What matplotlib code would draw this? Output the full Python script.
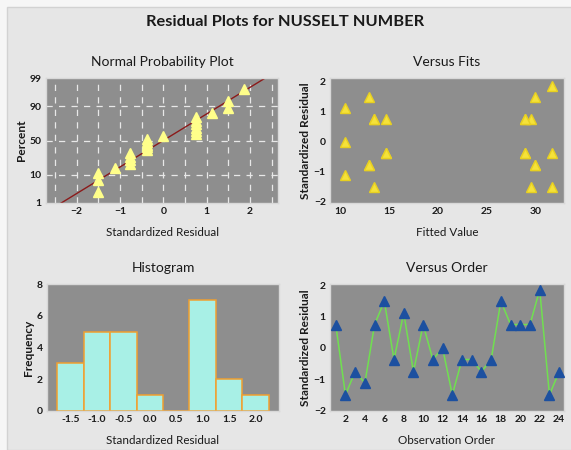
import numpy as np
import matplotlib.pyplot as plt
from matplotlib.patches import Rectangle
from statistics import NormalDist

plt.rcParams['font.family'] = ['Lato', 'DejaVu Sans']

# residuals in observation order and the matching fitted values
order = np.arange(1, 25)
residuals = [0.75, -1.50, -0.76, -1.12, 0.75, 1.50, -0.37, 1.12, -0.76, 0.75, -0.37, 0.00,
             -1.50, -0.37, -0.37, -0.76, -0.37, 1.50, 0.75, 0.75, 0.75, 1.87, -1.50, -0.76]
fitted = [13.5, 13.5, 13.0, 10.5, 14.7, 13.0, 14.7, 10.5, 13.0, 13.5, 14.7, 10.5,
          29.5, 28.9, 31.7, 29.9, 28.9, 29.9, 28.9, 29.5, 28.9, 31.7, 31.7, 29.9]
hist_edges = [-1.75, -1.25, -0.75, -0.25, 0.25, 0.75, 1.25, 1.75, 2.25]
pct_ticks = [1, 10, 50, 90, 99]

res = np.array(residuals)
n = len(res)
nd = NormalDist()

BG = '#E6E6E6'
PANEL = '#8E8E8E'
TXT = '#1A1A1A'

fig = plt.figure(figsize=(5.71, 4.5), dpi=100, facecolor='#F6F6F6')
fig.patches.append(Rectangle((7 / 571, 0), 1, 1 - 7 / 450, transform=fig.transFigure,
                             facecolor=BG, edgecolor='#D2D2D2', lw=1, zorder=-1))
fig.text(0.5, 0.951, 'Residual Plots for NUSSELT NUMBER', ha='center', va='center',
         fontsize=11.8, fontweight='bold', color=TXT)


def style(ax, title, xlabel, ylabel):
    ax.set_facecolor(PANEL)
    for s in ax.spines.values():
        s.set_color('#D8D8D8')
        s.set_linewidth(1)
    ax.tick_params(length=0, labelsize=7.5, colors=TXT, pad=3)
    for lab in ax.get_xticklabels() + ax.get_yticklabels():
        lab.set_fontweight('bold')
    ax.set_title(title, fontsize=10, color=TXT, pad=9)
    ax.set_xlabel(xlabel, fontsize=8.4, color=TXT, labelpad=8)
    ax.set_ylabel(ylabel, fontsize=8.6, fontweight='bold', color=TXT, labelpad=2)


# normal probability plot
ax1 = fig.add_axes([46 / 571, 1 - 203 / 450, 232 / 571, 125 / 450])
srt = np.sort(res)
pos = [(i - 0.3) / (n + 0.4) for i in range(1, n + 1)]
z = [nd.inv_cdf(p) for p in pos]
mu, sd = res.mean(), res.std(ddof=1)
zlo, zhi = nd.inv_cdf(0.01), nd.inv_cdf(0.99)
for gx in np.arange(-2.5, 2.6, 0.5):
    ax1.axvline(gx, color='#E8E8E8', lw=0.9, ls=(0, (5, 5)), zorder=1)
for gp in [10, 50, 90]:
    ax1.axhline(nd.inv_cdf(gp / 100), color='#E8E8E8', lw=0.9, ls=(0, (5, 5)), zorder=1)
ax1.plot([mu + sd * zlo * 1.03, mu + sd * zhi * 1.03], [zlo * 1.03, zhi * 1.03],
         color='#8B1A1A', lw=1, zorder=2)
ax1.plot(srt, z, ls='none', marker='^', ms=7, color='#FFFF8A', mec='#FFFF8A', zorder=3)
ax1.set_xlim(-2.71, 2.65)
ax1.set_ylim(zlo, zhi)
ax1.set_xticks([-2, -1, 0, 1, 2])
ax1.set_yticks([nd.inv_cdf(p / 100) for p in pct_ticks])
ax1.set_yticklabels([str(p) for p in pct_ticks])
style(ax1, 'Normal Probability Plot', 'Standardized Residual', 'Percent')

# residuals versus fitted values
ax2 = fig.add_axes([330 / 571, 1 - 203 / 450, 234 / 571, 125 / 450])
ax2.plot(fitted, residuals, ls='none', marker='^', ms=7.5, color='#F5E23A', mec='#E8D020')
ax2.set_xlim(8.98, 32.9)
ax2.set_ylim(-2.04, 2.12)
ax2.set_xticks([10, 15, 20, 25, 30])
ax2.set_yticks([-2, -1, 0, 1, 2])
style(ax2, 'Versus Fits', 'Fitted Value', 'Standardized Residual')

# histogram of residuals
ax3 = fig.add_axes([47 / 571, 1 - 411 / 450, 232 / 571, 127 / 450])
ax3.hist(res, bins=hist_edges, color='#A8F0E6', edgecolor='#F0A030', linewidth=1.1)
ax3.set_xlim(-1.94, 2.44)
ax3.set_ylim(0, 8)
ax3.set_xticks([-1.5, -1.0, -0.5, 0.0, 0.5, 1.0, 1.5, 2.0])
ax3.set_xticklabels(['-1.5', '-1.0', '-0.5', '0.0', '0.5', '1.0', '1.5', '2.0'])
ax3.set_yticks([0, 2, 4, 6, 8])
style(ax3, 'Histogram', 'Standardized Residual', 'Frequency')

# residuals versus observation order
ax4 = fig.add_axes([330 / 571, 1 - 411 / 450, 234 / 571, 127 / 450])
ax4.plot(order, residuals, color='#70E050', lw=1.1, zorder=2)
ax4.plot(order, residuals, ls='none', marker='^', ms=7.5, color='#1C50A0', mec='#1C50A0', zorder=3)
ax4.set_xlim(0.41, 24.5)
ax4.set_ylim(-2.02, 2.05)
ax4.set_xticks(np.arange(2, 25, 2))
ax4.set_yticks([-2, -1, 0, 1, 2])
style(ax4, 'Versus Order', 'Observation Order', 'Standardized Residual')

fig.savefig('out.png', dpi=100, facecolor=fig.get_facecolor())
